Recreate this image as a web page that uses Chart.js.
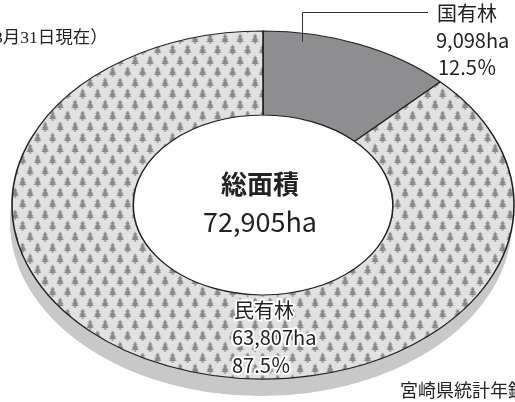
<!DOCTYPE html>
<html>
<head>
<meta charset="utf-8">
<script src="https://cdn.jsdelivr.net/npm/chart.js@4"></script>
<style>
  html, body { margin: 0; background: #fff; }
  #wrap { width: 515px; height: 402px; position: relative; }
</style>
</head>
<body>
<div id="wrap"><canvas id="forestChart"></canvas></div>
<script>
const categories = ['国有林', '民有林'];
const areas = [9098, 63807];
const shares = ['12.5％', '87.5％'];
const totalName = '総面積';
const totalArea = 72905;
const dateNote = '3月31日現在）';
const sourceNote = '宮崎県統計年鑑';

// ring is drawn as a circle and stretched sideways into the ellipse
const CX = 263, CY = 205, RY = 174, SX = 251 / 174, CUT = 0.517;
const JP = "'Noto Sans CJK JP', 'Noto Sans', sans-serif";
const SERIF = "'Liberation Serif', 'Noto Sans CJK JP', serif";

function drawTree(g, x, y) {
  g.beginPath();
  g.moveTo(x, y); g.lineTo(x - 2.2, y + 3.5); g.lineTo(x + 2.2, y + 3.5); g.closePath();
  g.moveTo(x, y + 2); g.lineTo(x - 3.2, y + 6.5); g.lineTo(x + 3.2, y + 6.5); g.closePath();
  g.moveTo(x, y + 4.2); g.lineTo(x - 3.8, y + 8.5); g.lineTo(x + 3.8, y + 8.5); g.closePath();
  g.fill();
  g.fillRect(x - 0.7, y + 8.5, 1.4, 2);
}

function treePattern() {
  const c = document.createElement('canvas');
  c.width = 15; c.height = 22;
  const g = c.getContext('2d');
  g.fillStyle = '#e1e1e2';
  g.fillRect(0, 0, 15, 22);
  g.fillStyle = '#89898b';
  [[4, 0.5], [11.5, 11.5], [-3.5, 11.5]].forEach(([x, y]) => drawTree(g, x, y));
  const p = document.createElement('canvas').getContext('2d').createPattern(c, 'repeat');
  p.setTransform(new DOMMatrix().scale(1 / SX, 1));
  return p;
}

const stretchPlugin = {
  id: 'stretch',
  beforeDatasetsDraw(chart) {
    const ctx = chart.ctx;
    ctx.save();
    // shadow under the ring, hole kept white
    ctx.fillStyle = '#c8c8c8';
    ctx.beginPath();
    ctx.ellipse(CX - 2, CY + 17, RY * SX, RY, 0, 0, Math.PI * 2);
    ctx.fill();
    ctx.fillStyle = '#fff';
    ctx.beginPath();
    ctx.ellipse(CX, CY, RY * CUT * SX, RY * CUT, 0, 0, Math.PI * 2);
    ctx.fill();
    ctx.translate(CX, 0);
    ctx.scale(SX, 1);
    ctx.translate(-CX, 0);
  },
  afterDatasetsDraw(chart) {
    chart.ctx.restore();
  }
};

function haloText(ctx, t, x, y) {
  ctx.strokeText(t, x, y);
  ctx.fillText(t, x, y);
}

const labelPlugin = {
  id: 'labels',
  afterDraw(chart) {
    const ctx = chart.ctx;
    ctx.save();
    // leader for 国有林
    ctx.strokeStyle = '#333';
    ctx.lineWidth = 1;
    ctx.beginPath();
    ctx.moveTo(302.5, 42); ctx.lineTo(302.5, 12.5); ctx.lineTo(428, 12.5);
    ctx.stroke();

    ctx.fillStyle = '#222';
    ctx.textBaseline = 'middle';
    ctx.textAlign = 'left';
    ctx.font = '20px ' + JP;
    ctx.fillText(categories[0], 437, 13);
    ctx.fillText(areas[0].toLocaleString('en-US') + 'ha', 436, 40);
    ctx.fillText(shares[0], 438, 67);

    ctx.strokeStyle = '#fff';
    ctx.lineWidth = 4;
    ctx.lineJoin = 'round';
    haloText(ctx, categories[1], 234, 310);
    haloText(ctx, areas[1].toLocaleString('en-US') + 'ha', 232, 337);
    haloText(ctx, shares[1], 232, 365);

    ctx.textAlign = 'center';
    ctx.font = 'bold 26px ' + JP;
    ctx.fillText(totalName, 260, 184);
    ctx.font = '27px ' + JP;
    ctx.fillText(totalArea.toLocaleString('en-US') + 'ha', 260, 222);

    ctx.textAlign = 'left';
    ctx.font = '17.5px ' + SERIF;
    ctx.fillText(dateNote, -6, 38);
    ctx.font = '18px ' + SERIF;
    ctx.fillText(sourceNote, 400, 392);
    ctx.restore();
  }
};

new Chart(document.getElementById('forestChart'), {
  type: 'doughnut',
  data: {
    labels: categories,
    datasets: [{
      data: areas,
      backgroundColor: ['#8e8e90', treePattern()],
      borderColor: '#222',
      borderWidth: 1.1,
      radius: RY,
      cutout: (CUT * 100) + '%'
    }]
  },
  options: {
    responsive: true,
    maintainAspectRatio: false,
    animation: false,
    events: [],
    layout: { padding: { left: 11, top: 8, right: 0, bottom: 0 } },
    plugins: { legend: { display: false }, tooltip: { enabled: false } }
  },
  plugins: [stretchPlugin, labelPlugin]
});
</script>
</body>
</html>
